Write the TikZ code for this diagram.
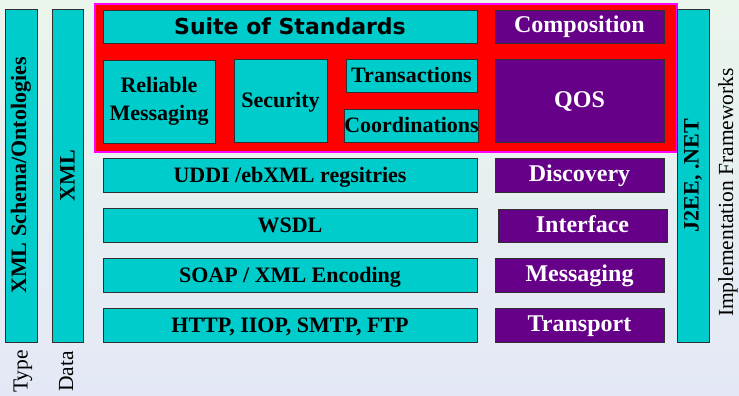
\documentclass[tikz,border=0pt]{standalone}
\usepackage{fontspec}
\setmainfont{Liberation Serif}
\newfontfamily\dejavub{DejaVu Sans}
\definecolor{bgtop}{HTML}{EAF5EC}
\definecolor{bgbot}{HTML}{E4E8F6}
\definecolor{tealfill}{HTML}{00CCCC}
\definecolor{purplefill}{HTML}{660088}
\definecolor{boxline}{HTML}{303030}
\definecolor{suitered}{HTML}{FF0000}
\definecolor{suiteedge}{HTML}{FF00FF}
\tikzset{
  tealbox/.style={draw=boxline, line width=0.8pt, fill=tealfill, inner sep=0pt,
    font=\fontsize{22}{28}\selectfont\bfseries, text=black, align=center},
  oneline/.style={text height=15pt, text depth=0.5pt},
  purplebox/.style={draw=boxline, line width=0.8pt, fill=purplefill, inner sep=0pt,
    font=\fontsize{24}{28}\selectfont\bfseries, text=white, align=center,
    text height=16pt, text depth=3pt},
  sidelabel/.style={rotate=90, anchor=base, inner sep=0pt,
    font=\fontsize{21.5}{26}\selectfont},
  wide/.style={minimum width=374pt, minimum height=34pt},
  narrow/.style={minimum width=169pt, minimum height=34pt},
  column/.style={minimum width=32pt, minimum height=333pt}
}
\begin{document}
\begin{tikzpicture}[x=1pt, y=-1pt]
  % page background
  \shade[top color=bgtop, bottom color=bgbot] (0,0) rectangle (739,396);
  \useasboundingbox (0,0) rectangle (739,396);

  % left columns
  \node[tealbox, column] (schema) at (21,175.5) {};
  \node[rotate=90, font=\fontsize{22}{26}\selectfont\bfseries] (schematext) at (schema.center) {XML Schema/Ontologies};
  \node[tealbox, column, minimum width=31pt] (xml) at (67.5,175.5) {};
  \node[rotate=90, font=\fontsize{22}{26}\selectfont\bfseries] (xmltext) at (xml.center) {XML};
  \node[sidelabel] (type) at (27.5,371.5) {Type};
  \node[sidelabel] (data) at (73,371.5) {Data};

  % suite of standards block
  \node[draw=suiteedge, line width=2.5pt, fill=suitered, minimum width=582pt, minimum height=148pt, inner sep=0pt] (suite) at (386,78) {};
  \node[tealbox, minimum width=374pt, minimum height=33pt, font=\fontsize{22}{26}\selectfont\dejavub\bfseries] (suitetitle) at (290,26.5) {Suite of Standards};
  \node[tealbox, minimum width=112pt, minimum height=83pt] (reliable) at (159,101.5) {Reliable\\Messaging};
  \node[tealbox, oneline, minimum width=93pt, minimum height=83pt] (security) at (280.5,100.5) {Security};
  \node[tealbox, oneline, minimum width=131pt, minimum height=33pt] (trans) at (411.5,75.5) {Transactions};
  \node[tealbox, oneline, minimum width=131pt, minimum height=33pt] (coord) at (411.5,125.5) {Coordinations};
  \node[purplebox, minimum width=169pt, minimum height=33pt] (composition) at (579.5,26.5) {Composition};
  \node[purplebox, minimum width=169pt, minimum height=83pt] (qos) at (579.5,100.5) {QOS};

  % stack rows
  \node[tealbox, oneline, wide] (uddi) at (290,175) {UDDI /ebXML regsitries};
  \node[tealbox, oneline, wide] (wsdl) at (290,225) {WSDL};
  \node[tealbox, oneline, wide] (soap) at (290,275) {SOAP / XML Encoding};
  \node[tealbox, oneline, wide] (http) at (290,325) {HTTP, IIOP, SMTP, FTP};
  \node[purplebox, narrow] (discovery) at (579.5,175) {Discovery};
  \node[purplebox, narrow, minimum height=33pt] (interface) at (582.5,225.5) {Interface};
  \node[purplebox, narrow] (messaging) at (579.5,275) {Messaging};
  \node[purplebox, narrow] (transport) at (579.5,325) {Transport};

  % right column
  \node[tealbox, column] (j2ee) at (693,175.5) {};
  \node[rotate=90, font=\fontsize{22}{26}\selectfont\bfseries] (j2eetext) at (j2ee.center) {J2EE, .NET};
  \node[sidelabel] (frameworks) at (733,192.5) {Implementation Frameworks};
\end{tikzpicture}
\end{document}
